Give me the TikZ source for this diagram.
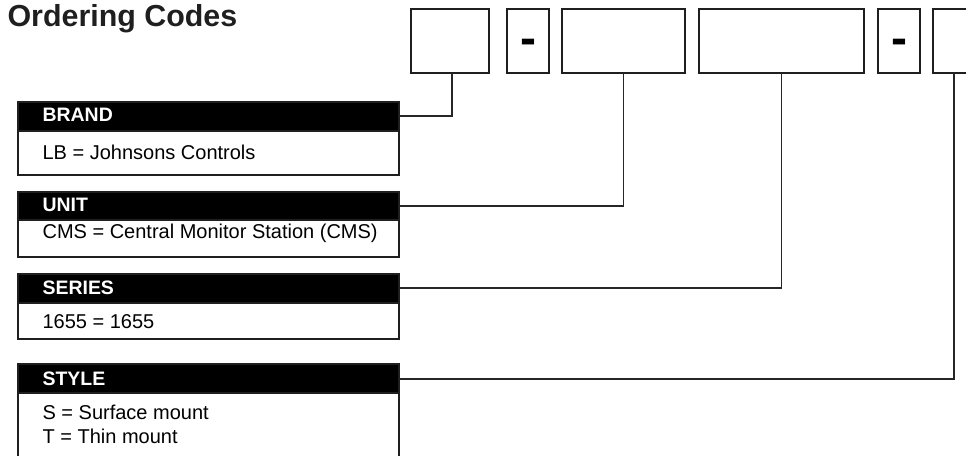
\documentclass[tikz,border=0pt]{standalone}
\usepackage{fontspec}
\setmainfont{Liberation Sans}
\begin{document}
\begin{tikzpicture}[x=0.75pt,y=-0.75pt,
  frame/.style={draw=black!88,line width=1.4pt,inner sep=0pt,outer sep=0pt},
  codebox/.style={frame,fill=white,minimum height=63.4*0.75pt,anchor=north west},
  headbox/.style={frame,fill=black,minimum width=381*0.75pt,anchor=north west},
  bodybox/.style={frame,fill=white,minimum width=381*0.75pt,anchor=north west},
  headtxt/.style={inner sep=0pt,anchor=base west,text=white,font=\fontsize{14.6pt}{17pt}\selectfont\bfseries},
  bodytxt/.style={inner sep=0pt,anchor=base west,font=\fontsize{15pt}{18pt}\selectfont},
  dashtxt/.style={inner sep=0pt,anchor=base,font=\fontsize{36pt}{38pt}\selectfont\bfseries},
  link/.style={draw=black!85,line width=1.3pt}]
\useasboundingbox (0,0) rectangle (966,455);
\clip (0,0) rectangle (966,455);

% title
\node[inner sep=0pt,anchor=base west,font=\fontsize{22.8pt}{26pt}\selectfont\bfseries,text=black!88]
  (title) at (7.3,26.7) {Ordering Codes};

% code boxes
\node[codebox,minimum width=78*0.75pt]  (c1) at (411,9.3) {};
\node[codebox,minimum width=42*0.75pt]  (d1) at (507,9.3) {};
\node[codebox,minimum width=123*0.75pt] (c2) at (562,9.3) {};
\node[codebox,minimum width=165*0.75pt] (c3) at (699,9.3) {};
\node[codebox,minimum width=42*0.75pt]  (d2) at (878,9.3) {};
\node[codebox,minimum width=42.6*0.75pt] (c4) at (933,9.3) {};
\node[dashtxt] (m1) at (528.3,54.8) {-};
\node[dashtxt] (m2) at (899.3,54.8) {-};

% option boxes
\node[headbox,minimum height=29*0.75pt]   (brandh)  at (18.3,101.7) {};
\node[bodybox,minimum height=44.3*0.75pt] (brandb)  at (18.3,130.7) {};
\node[headbox,minimum height=28.3*0.75pt] (unith)   at (18.3,191.7) {};
\node[bodybox,minimum height=37.3*0.75pt] (unitb)   at (18.3,220) {};
\node[headbox,minimum height=28.7*0.75pt] (seriesh) at (18.3,274) {};
\node[bodybox,minimum height=36.6*0.75pt] (seriesb) at (18.3,302.7) {};
\node[headbox,minimum height=29.3*0.75pt] (styleh)  at (18.3,364) {};
\node[bodybox,minimum height=80*0.75pt]   (styleb)  at (18.3,393.3) {};

\node[headtxt] (brandt)  at (42.3,121.7) {BRAND};
\node[bodytxt] (brandv)  at (42.3,159)   {LB = Johnsons Controls};
\node[headtxt] (unitt)   at (42.3,211)   {UNIT};
\node[bodytxt] (unitv)   at (42.3,238.3) {CMS = Central Monitor Station (CMS)};
\node[headtxt] (seriest) at (42.3,294.3) {SERIES};
\node[bodytxt] (seriesv) at (42.3,328.3) {1655 = 1655};
\node[headtxt] (stylet)  at (42.3,385)   {STYLE};
\node[bodytxt] (stylev1) at (42.3,419.3) {S = Surface mount};
\node[bodytxt] (stylev2) at (42.3,443.3) {T = Thin mount};

% connectors
\draw[link] (brandh.east)  -| ([xshift=1.5pt]c1.south);
\draw[link] (unith.east)   -| (c2.south);
\draw[link] (seriesh.east) -| (c3.south);
\draw[link] (styleh.east)  -| (c4.south);
\end{tikzpicture}
\end{document}
